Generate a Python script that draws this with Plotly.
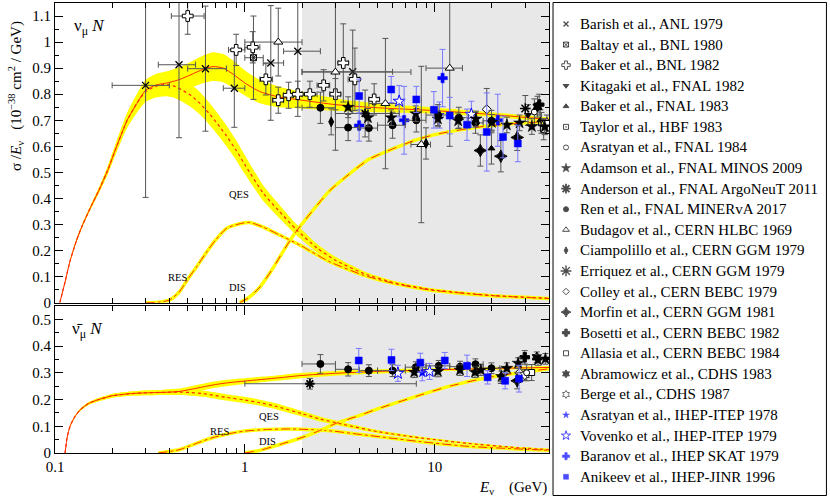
import numpy as np
import plotly.graph_objects as go

FONT = "Liberation Serif"

# ---------------- theory curves: neutrino (top) ----------------
tot_E = [0.106, 0.113, 0.12, 0.13, 0.14, 0.155, 0.17, 0.19, 0.21, 0.24, 0.27, 0.30, 0.34, 0.40, 0.455,
         0.52, 0.6, 0.68, 0.77, 0.87, 1.0, 1.2, 1.5, 2.0, 3.0, 5.0, 10, 20, 40]
tot_y = [0, 0.08, 0.16, 0.24, 0.30, 0.37, 0.43, 0.51, 0.595, 0.70, 0.765, 0.815, 0.835, 0.845, 0.857,
         0.875, 0.895, 0.906, 0.90, 0.876, 0.843, 0.81, 0.79, 0.777, 0.76, 0.748, 0.737, 0.722, 0.703]
tot_hw = [0.002, 0.003, 0.004, 0.005, 0.006, 0.008, 0.01, 0.015, 0.02, 0.028, 0.035, 0.04, 0.043, 0.045, 0.048,
          0.05, 0.053, 0.055, 0.054, 0.052, 0.048, 0.045, 0.04, 0.032, 0.024, 0.017, 0.012, 0.009, 0.008]

qes_E = [0.106, 0.113, 0.12, 0.13, 0.14, 0.155, 0.17, 0.19, 0.21, 0.24, 0.27, 0.30, 0.34, 0.38, 0.42, 0.47,
         0.52, 0.58, 0.65, 0.72, 0.8, 0.9, 1.0, 1.25, 1.5, 1.87, 2.4, 3.0, 4.2, 6.0, 9.4, 20, 40]
qes_y = [0, 0.08, 0.16, 0.24, 0.30, 0.37, 0.43, 0.51, 0.595, 0.70, 0.765, 0.81, 0.83, 0.837, 0.832, 0.815,
         0.795, 0.765, 0.725, 0.685, 0.64, 0.585, 0.53, 0.42, 0.355, 0.28, 0.21, 0.163, 0.113, 0.078, 0.051, 0.028, 0.017]
qes_hw = [0.002, 0.003, 0.004, 0.005, 0.006, 0.008, 0.01, 0.015, 0.02, 0.028, 0.035, 0.04, 0.043, 0.045, 0.045, 0.045,
          0.044, 0.043, 0.042, 0.041, 0.04, 0.038, 0.036, 0.03, 0.026, 0.021, 0.016, 0.013, 0.009, 0.007, 0.005, 0.004, 0.003]

res_E = [0.30, 0.35, 0.40, 0.45, 0.5, 0.56, 0.63, 0.7, 0.8, 0.94, 1.06, 1.25, 1.52, 1.95, 2.8, 4.2, 6.0, 9.4, 20, 40]
res_y = [0, 0.002, 0.01, 0.04, 0.09, 0.14, 0.195, 0.24, 0.285, 0.303, 0.308, 0.29, 0.26, 0.221, 0.157, 0.106,
         0.075, 0.049, 0.027, 0.016]

dis_E = [0.94, 1.05, 1.2, 1.4, 1.6, 1.85, 2.2, 2.8, 3.5, 4.5, 6.0, 8.0, 10, 15, 20, 30, 40]
dis_y = [0, 0.02, 0.06, 0.13, 0.2, 0.27, 0.34, 0.43, 0.49, 0.55, 0.59, 0.625, 0.645, 0.668, 0.68, 0.69, 0.695]

# ---------------- theory curves: antineutrino (bottom) ----------------
btot_E = [0.113, 0.116, 0.12, 0.127, 0.135, 0.15, 0.17, 0.2, 0.25, 0.3, 0.38, 0.45, 0.52, 0.6, 0.7, 0.8,
          1.0, 1.5, 2.0, 3.0, 5.0, 10, 20, 40]
btot_y = [0, 0.06, 0.1, 0.135, 0.16, 0.185, 0.2, 0.214, 0.222, 0.225, 0.227, 0.23, 0.238, 0.247, 0.256, 0.262,
          0.269, 0.281, 0.29, 0.298, 0.305, 0.311, 0.316, 0.32]
btot_hw = [0.002, 0.002, 0.003, 0.003, 0.004, 0.005, 0.006, 0.007, 0.008, 0.009, 0.01, 0.011, 0.012, 0.012, 0.012, 0.012,
           0.011, 0.01, 0.01, 0.009, 0.008, 0.006, 0.005, 0.005]

bqes_E = [0.113, 0.116, 0.12, 0.127, 0.135, 0.15, 0.17, 0.2, 0.25, 0.3, 0.38, 0.45, 0.52, 0.6, 0.7, 0.8,
          1.0, 1.2, 1.47, 2.0, 2.5, 3.3, 5.0, 8.3, 15, 25, 40]
bqes_y = [0, 0.06, 0.1, 0.135, 0.16, 0.185, 0.2, 0.214, 0.222, 0.225, 0.227, 0.228, 0.226, 0.222, 0.215, 0.208,
          0.198, 0.188, 0.174, 0.147, 0.127, 0.107, 0.08, 0.057, 0.036, 0.022, 0.012]
bqes_hw = [0.002, 0.002, 0.003, 0.003, 0.004, 0.005, 0.006, 0.007, 0.008, 0.009, 0.01, 0.011, 0.012, 0.012, 0.012, 0.012,
           0.012, 0.011, 0.011, 0.01, 0.009, 0.008, 0.006, 0.005, 0.004, 0.003, 0.003]

bres_E = [0.35, 0.45, 0.55, 0.68, 0.85, 1.0, 1.3, 1.73, 2.3, 2.9, 4.0, 6.0, 8.3, 15, 40]
bres_y = [0, 0.012, 0.035, 0.058, 0.074, 0.082, 0.088, 0.09, 0.087, 0.082, 0.07, 0.055, 0.043, 0.025, 0.01]

bdis_E = [1.0, 1.2, 1.5, 2.0, 2.5, 3.0, 4.0, 5.0, 8.0, 12, 20, 40]
bdis_y = [0, 0.01, 0.03, 0.058, 0.085, 0.11, 0.14, 0.165, 0.212, 0.25, 0.285, 0.315]

# ---------------- data: neutrino (top panel) ----------------
barish_E = [0.30, 0.45, 0.62, 0.88, 1.37, 1.9, 3.7]
barish_y = [0.834, 0.913, 0.898, 0.823, 0.92, 0.965, 0.886]
barish_dy = [0.43, 0.28, 0.24, 0.15, 0.22, 0.25, 0.16]
barish_Elo = [0.20, 0.35, 0.50, 0.77, 1.25, 1.6, 2.0]
barish_Ehi = [0.40, 0.55, 0.80, 1.0, 1.6, 2.5, 6.0]

baltay_E = [1.11]
baltay_y = [0.94]
baltay_dy = [0.16]
baltay_Elo = [1.0]
baltay_Ehi = [1.25]

bakerbnl_E = [0.5, 0.9, 1.1, 1.29, 1.5, 1.7, 1.9, 2.2, 2.6, 3.0, 3.3, 3.8, 4.8]
bakerbnl_y = [1.10, 0.97, 0.98, 0.857, 0.777, 0.796, 0.80, 0.80, 0.834, 0.80, 0.92, 0.857, 0.78]
bakerbnl_dy = [0.07, 0.06, 0.06, 0.06, 0.05, 0.05, 0.05, 0.05, 0.06, 0.06, 0.15, 0.12, 0.06]
bakerbnl_Elo = [0.41, 0.82, 1.0, 1.2, 1.4, 1.6, 1.8, 2.0, 2.4, 2.8, 3.1, 3.5, 4.5]
bakerbnl_Ehi = [0.61, 1.0, 1.2, 1.4, 1.6, 1.8, 2.0, 2.4, 2.8, 3.2, 3.5, 4.0, 5.1]

kitagaki_E = [31]
kitagaki_y = [0.72]
kitagaki_dy = [0.04]

bakerfnal_E = [19.9, 36]
bakerfnal_y = [0.592, 0.70]
bakerfnal_dy = [0.06, 0.04]

taylor_E = [36.5]
taylor_y = [0.69]
taylor_dy = [0.04]

asrfnal_E = [33.5]
asrfnal_y = [0.732]
asrfnal_dy = [0.05]

minos_E = [3.5, 4.45, 5.9, 7.95, 10.4, 13.3, 16.5, 20, 24, 28, 32.5, 38]
minos_y = [0.75, 0.71, 0.71, 0.725, 0.705, 0.698, 0.705, 0.692, 0.682, 0.69, 0.676, 0.675]
minos_dy = [0.04, 0.035, 0.03, 0.03, 0.03, 0.03, 0.03, 0.03, 0.03, 0.03, 0.03, 0.03]

argo_E = [4.3]
argo_y = [0.726]
argo_dy = [0.09]
argo_Elo = [3.0]
argo_Ehi = [6.5]

minerva_E = [2.5, 3.5, 4.5, 6.0, 8.0, 10.4, 13.4, 16.4, 19.9]
minerva_y = [0.748, 0.672, 0.67, 0.681, 0.70, 0.72, 0.71, 0.69, 0.698]
minerva_dy = [0.06, 0.05, 0.05, 0.05, 0.045, 0.04, 0.04, 0.04, 0.04]
minerva_Elo = [2.0, 3.0, 4.0, 5.0, 7.0, 9.0, 12, 15, 18]
minerva_Ehi = [3.0, 4.0, 5.0, 7.0, 9.0, 12, 15, 18, 22]

budagov_E = [1.5, 3.0, 5.5, 8.5, 12]
budagov_y = [1.0, 0.885, 0.764, 0.607, 0.90]
budagov_dy = [0.13, 0.3, 0.25, 0.3, 0.3]
budagov_Elo = [1.0, 2.0, 4.5, 7.5, 9.0]
budagov_Ehi = [2.0, 7.5, 6.5, 9.5, 14]

ciamp_E = [2.85, 9.0]
ciamp_y = [0.694, 0.611]
ciamp_dy = [0.05, 0.06]

erriquez_E = [30]
erriquez_y = [0.745]
erriquez_dy = [0.05]

colley_E = [18.8]
colley_y = [0.742]
colley_dy = [0.08]

morfin_E = [17.4, 22.3, 27.2]
morfin_y = [0.584, 0.562, 0.634]
morfin_dy = [0.06, 0.06, 0.05]

bosetti_E = [35.5]
bosetti_y = [0.76]
bosetti_dy = [0.04]

allasia_E = [37.5]
allasia_y = [0.665]
allasia_dy = [0.04]

abram_E = [34.8]
abram_y = [0.752]
abram_dy = [0.04]

berge_E = [39]
berge_y = [0.69]
berge_dy = [0.03]

asritep_E = [10.6]
asritep_y = [0.72]
asritep_dy = [0.05]

vovenko_E = [6.5, 15.6]
vovenko_y = [0.773, 0.723]
vovenko_dy = [0.06, 0.05]

baranov_E = [4.0, 6.9, 11, 21.5]
baranov_y = [0.68, 0.70, 0.862, 0.70]
baranov_dy = [0.06, 0.13, 0.11, 0.1]

anikeev_E = [4.0, 5.9, 8.0, 9.9, 12, 14.8, 18.8, 22.9, 27.4]
anikeev_y = [0.793, 0.818, 0.78, 0.74, 0.718, 0.683, 0.655, 0.636, 0.611]
anikeev_dy = [0.065, 0.05, 0.05, 0.07, 0.07, 0.06, 0.15, 0.08, 0.07]

# ---------------- data: antineutrino (bottom panel) ----------------
b_minerva_E = [2.5, 3.5, 4.5, 6.0, 7.95, 10.5, 13.6, 16.4, 19.9]
b_minerva_y = [0.333, 0.313, 0.308, 0.308, 0.321, 0.326, 0.323, 0.332, 0.317]
b_minerva_dy = [0.035, 0.025, 0.022, 0.022, 0.02, 0.02, 0.02, 0.02, 0.02]
b_minerva_Elo = [2.0, 3.0, 4.0, 5.0, 7.0, 9.0, 12, 15, 18]
b_minerva_Ehi = [3.0, 4.0, 5.0, 7.0, 9.0, 12, 15, 18, 22]

b_anikeev_E = [3.98, 5.92, 8.4, 11.3, 14.8, 19.0, 23.5, 27.8]
b_anikeev_y = [0.346, 0.348, 0.338, 0.346, 0.326, 0.283, 0.27, 0.278]
b_anikeev_dy = [0.045, 0.04, 0.035, 0.03, 0.04, 0.025, 0.03, 0.05]

b_minos_E = [7.8, 10.4, 13.6, 16.3, 17.5, 22.5, 24, 27.5, 35, 38.3]
b_minos_y = [0.302, 0.305, 0.31, 0.302, 0.31, 0.286, 0.317, 0.336, 0.348, 0.352]
b_minos_dy = [0.02, 0.02, 0.02, 0.02, 0.02, 0.02, 0.02, 0.02, 0.02, 0.02]

b_argo_E = [2.2]
b_argo_y = [0.259]
b_argo_dy = [0.02]
b_argo_Elo = [1.0]
b_argo_Ehi = [8.0]

b_vovenko_E = [6.4, 9.4]
b_vovenko_y = [0.298, 0.305]
b_vovenko_dy = [0.03, 0.03]

b_asritep_E = [8.6]
b_asritep_y = [0.30]
b_asritep_dy = [0.03]

b_bakerfnal_E = [22.3]
b_bakerfnal_y = [0.29]
b_bakerfnal_dy = [0.03]

b_colley_E = [28]
b_colley_y = [0.30]
b_colley_dy = [0.03]

b_morfin_E = [27.2]
b_morfin_y = [0.27]
b_morfin_dy = [0.03]

b_bosetti_E = [29.8]
b_bosetti_y = [0.358]
b_bosetti_dy = [0.025]

b_allasia_E = [32.4]
b_allasia_y = [0.301]
b_allasia_dy = [0.03]

b_abram_E = [34.5]
b_abram_y = [0.358]
b_abram_dy = [0.02]

b_berge_E = [29.8]
b_berge_y = [0.292]
b_berge_dy = [0.02]

b_asrfnal_E = [30.5]
b_asrfnal_y = [0.30]
b_asrfnal_dy = [0.03]

# legend labels (in order)
legend_names = [
    "Barish et al., ANL 1979", "Baltay et al., BNL 1980", "Baker et al., BNL 1982",
    "Kitagaki et al., FNAL 1982", "Baker et al., FNAL 1983", "Taylor et al., HBF 1983",
    "Asratyan et al., FNAL 1984", "Adamson et al., FNAL MINOS 2009", "Anderson et al., FNAL ArgoNeuT 2011",
    "Ren et al., FNAL MINERvA 2017", "Budagov et al., CERN HLBC 1969", "Ciampolillo et al., CERN GGM 1979",
    "Erriquez et al., CERN GGM 1979", "Colley et al., CERN BEBC 1979", "Morfin et al., CERN GGM 1981",
    "Bosetti et al., CERN BEBC 1982", "Allasia et al., CERN BEBC 1984", "Abramowicz et al., CDHS 1983",
    "Berge et al., CDHS 1987", "Asratyan et al., IHEP-ITEP 1978", "Vovenko et al., IHEP-ITEP 1979",
    "Baranov et al., IHEP SKAT 1979", "Anikeev et al., IHEP-JINR 1996",
]

# ---------------- styles ----------------
RED = "#ff2a00"
YEL = "#ffff00"
GREYBAR = "#555555"
BLUEBAR = "#7878ff"
BLUE = "#0000ff"

# (symbol, size, fill, line, linewidth, barcolor) per legend entry
STY = {
    "Barish et al., ANL 1979": ("x-thin-open", 7, "black", "black", 1.3, GREYBAR),
    "Baltay et al., BNL 1980": ("square-x-open", 6, "black", "black", 1.0, GREYBAR),
    "Baker et al., BNL 1982": ("cross", 9, "white", "black", 1.0, GREYBAR),
    "Kitagaki et al., FNAL 1982": ("triangle-down", 6, "black", "black", 1.0, GREYBAR),
    "Baker et al., FNAL 1983": ("triangle-up", 6, "black", "black", 1.0, GREYBAR),
    "Taylor et al., HBF 1983": ("square-open-dot", 6, "black", "black", 1.0, GREYBAR),
    "Asratyan et al., FNAL 1984": ("circle", 6, "white", "black", 1.0, GREYBAR),
    "Adamson et al., FNAL MINOS 2009": ("star", 9, "black", "black", 0.5, GREYBAR),
    "Anderson et al., FNAL ArgoNeuT 2011": ("asterisk-open", 8, "black", "black", 1.8, GREYBAR),
    "Ren et al., FNAL MINERvA 2017": ("circle", 7, "black", "black", 1.0, GREYBAR),
    "Budagov et al., CERN HLBC 1969": ("triangle-up", 8, "white", "black", 1.0, GREYBAR),
    "Ciampolillo et al., CERN GGM 1979": ("diamond-tall", 7, "black", "black", 1.0, GREYBAR),
    "Erriquez et al., CERN GGM 1979": ("asterisk-open", 9, "black", "black", 1.4, GREYBAR),
    "Colley et al., CERN BEBC 1979": ("diamond", 7, "white", "black", 1.0, GREYBAR),
    "Morfin et al., CERN GGM 1981": ("star-diamond", 9, "black", "black", 1.0, GREYBAR),
    "Bosetti et al., CERN BEBC 1982": ("cross", 8, "black", "black", 1.0, GREYBAR),
    "Allasia et al., CERN BEBC 1984": ("square", 6, "white", "black", 1.0, GREYBAR),
    "Abramowicz et al., CDHS 1983": ("hexagram", 8, "black", "black", 1.0, GREYBAR),
    "Berge et al., CDHS 1987": ("hexagram", 8, "white", "black", 0.8, GREYBAR),
    "Asratyan et al., IHEP-ITEP 1978": ("star", 7, BLUE, BLUE, 0.5, BLUEBAR),
    "Vovenko et al., IHEP-ITEP 1979": ("star", 9, "white", BLUE, 1.0, BLUEBAR),
    "Baranov et al., IHEP SKAT 1979": ("cross", 8, BLUE, BLUE, 0.5, BLUEBAR),
    "Anikeev et al., IHEP-JINR 1996": ("square", 7, BLUE, BLUE, 0.5, BLUEBAR),
}

fig = go.Figure()


def band(E, y, hw, xa, ya):
    lo = [max(0.0, a - b) for a, b in zip(y, hw)]
    up = [a + b for a, b in zip(y, hw)]
    fig.add_trace(go.Scatter(x=E, y=lo, mode="lines", line=dict(width=0, shape="spline", smoothing=0.6),
                             hoverinfo="skip", xaxis=xa, yaxis=ya))
    fig.add_trace(go.Scatter(x=E, y=up, mode="lines", line=dict(width=0, shape="spline", smoothing=0.6),
                             fill="tonexty", fillcolor=YEL, hoverinfo="skip", xaxis=xa, yaxis=ya))


def curve(E, y, xa, ya, dash="solid", under=False, width=1.0):
    if under:
        fig.add_trace(go.Scatter(x=E, y=y, mode="lines",
                                 line=dict(color=YEL, width=3.5, shape="spline", smoothing=0.6),
                                 hoverinfo="skip", xaxis=xa, yaxis=ya))
    fig.add_trace(go.Scatter(x=E, y=y, mode="lines",
                             line=dict(color=RED, width=width, dash=dash, shape="spline", smoothing=0.6),
                             hoverinfo="skip", xaxis=xa, yaxis=ya))


band(qes_E, qes_y, qes_hw, "x", "y")
band(tot_E, tot_y, tot_hw, "x", "y")
curve(res_E, res_y, "x", "y", dash="dashdot", under=True)
curve(dis_E, dis_y, "x", "y", dash="dash", under=True)
curve(qes_E, qes_y, "x", "y", dash="dot", width=1.2)
curve(tot_E, tot_y, "x", "y")

band(bqes_E, bqes_y, bqes_hw, "x2", "y2")
band(btot_E, btot_y, btot_hw, "x2", "y2")
curve(bres_E, bres_y, "x2", "y2", dash="dashdot", under=True)
curve(bdis_E, bdis_y, "x2", "y2", dash="dash", under=True)
curve(bqes_E, bqes_y, "x2", "y2", dash="dot", width=1.2)
curve(btot_E, btot_y, "x2", "y2")


def add(name, E, y, dy, Elo=None, Ehi=None, bottom=False):
    sym, size, fill, line, lw, barcolor = STY[name]
    xa, ya = ("x2", "y2") if bottom else ("x", "y")
    ex = None
    if Elo is not None:
        ex = dict(type="data", symmetric=False,
                  array=[h - e for h, e in zip(Ehi, E)],
                  arrayminus=[e - l for e, l in zip(E, Elo)],
                  color=barcolor, thickness=1, width=3)
    fig.add_trace(go.Scatter(
        x=E, y=y, mode="markers", name=name,
        marker=dict(symbol=sym, size=size, color=fill, line=dict(color=line, width=lw)),
        error_y=dict(type="data", array=dy, color=barcolor, thickness=1, width=3),
        error_x=ex, xaxis=xa, yaxis=ya))


add("Barish et al., ANL 1979", barish_E, barish_y, barish_dy, barish_Elo, barish_Ehi)
add("Baltay et al., BNL 1980", baltay_E, baltay_y, baltay_dy, baltay_Elo, baltay_Ehi)
add("Baker et al., BNL 1982", bakerbnl_E, bakerbnl_y, bakerbnl_dy, bakerbnl_Elo, bakerbnl_Ehi)
add("Kitagaki et al., FNAL 1982", kitagaki_E, kitagaki_y, kitagaki_dy)
add("Baker et al., FNAL 1983", bakerfnal_E, bakerfnal_y, bakerfnal_dy)
add("Taylor et al., HBF 1983", taylor_E, taylor_y, taylor_dy)
add("Asratyan et al., FNAL 1984", asrfnal_E, asrfnal_y, asrfnal_dy)
add("Budagov et al., CERN HLBC 1969", budagov_E, budagov_y, budagov_dy, budagov_Elo, budagov_Ehi)
add("Ciampolillo et al., CERN GGM 1979", ciamp_E, ciamp_y, ciamp_dy)
add("Erriquez et al., CERN GGM 1979", erriquez_E, erriquez_y, erriquez_dy)
add("Colley et al., CERN BEBC 1979", colley_E, colley_y, colley_dy)
add("Morfin et al., CERN GGM 1981", morfin_E, morfin_y, morfin_dy)
add("Bosetti et al., CERN BEBC 1982", bosetti_E, bosetti_y, bosetti_dy)
add("Allasia et al., CERN BEBC 1984", allasia_E, allasia_y, allasia_dy)
add("Abramowicz et al., CDHS 1983", abram_E, abram_y, abram_dy)
add("Berge et al., CDHS 1987", berge_E, berge_y, berge_dy)
add("Vovenko et al., IHEP-ITEP 1979", vovenko_E, vovenko_y, vovenko_dy)
add("Baranov et al., IHEP SKAT 1979", baranov_E, baranov_y, baranov_dy)
add("Asratyan et al., IHEP-ITEP 1978", asritep_E, asritep_y, asritep_dy)
add("Anderson et al., FNAL ArgoNeuT 2011", argo_E, argo_y, argo_dy, argo_Elo, argo_Ehi)
add("Ren et al., FNAL MINERvA 2017", minerva_E, minerva_y, minerva_dy, minerva_Elo, minerva_Ehi)
add("Adamson et al., FNAL MINOS 2009", minos_E, minos_y, minos_dy)
add("Anikeev et al., IHEP-JINR 1996", anikeev_E, anikeev_y, anikeev_dy)

add("Anderson et al., FNAL ArgoNeuT 2011", b_argo_E, b_argo_y, b_argo_dy, b_argo_Elo, b_argo_Ehi, bottom=True)
add("Baker et al., FNAL 1983", b_bakerfnal_E, b_bakerfnal_y, b_bakerfnal_dy, bottom=True)
add("Colley et al., CERN BEBC 1979", b_colley_E, b_colley_y, b_colley_dy, bottom=True)
add("Morfin et al., CERN GGM 1981", b_morfin_E, b_morfin_y, b_morfin_dy, bottom=True)
add("Bosetti et al., CERN BEBC 1982", b_bosetti_E, b_bosetti_y, b_bosetti_dy, bottom=True)
add("Allasia et al., CERN BEBC 1984", b_allasia_E, b_allasia_y, b_allasia_dy, bottom=True)
add("Abramowicz et al., CDHS 1983", b_abram_E, b_abram_y, b_abram_dy, bottom=True)
add("Berge et al., CDHS 1987", b_berge_E, b_berge_y, b_berge_dy, bottom=True)
add("Asratyan et al., FNAL 1984", b_asrfnal_E, b_asrfnal_y, b_asrfnal_dy, bottom=True)
add("Asratyan et al., IHEP-ITEP 1978", b_asritep_E, b_asritep_y, b_asritep_dy, bottom=True)
add("Vovenko et al., IHEP-ITEP 1979", b_vovenko_E, b_vovenko_y, b_vovenko_dy, bottom=True)
add("Ren et al., FNAL MINERvA 2017", b_minerva_E, b_minerva_y, b_minerva_dy, b_minerva_Elo, b_minerva_Ehi, bottom=True)
add("Adamson et al., FNAL MINOS 2009", b_minos_E, b_minos_y, b_minos_dy, bottom=True)
add("Anikeev et al., IHEP-JINR 1996", b_anikeev_E, b_anikeev_y, b_anikeev_dy, bottom=True)

# ---------------- hand-made legend (own axis) ----------------
LEG_X_SYM = 13
LEG_X_TXT = 25
LEG_Y0 = 22
LEG_DY = 20.58
leg_y = [LEG_Y0 + LEG_DY * i for i in range(len(legend_names))]
fig.add_trace(go.Scatter(
    x=[LEG_X_SYM] * len(legend_names), y=leg_y, mode="markers", hoverinfo="skip",
    marker=dict(symbol=[STY[n][0] for n in legend_names],
                size=[STY[n][1] if STY[n][0].startswith("asterisk") else max(5, STY[n][1] - 2)
                      for n in legend_names],
                color=[STY[n][2] for n in legend_names],
                line=dict(color=[STY[n][3] for n in legend_names],
                          width=[STY[n][4] for n in legend_names])),
    xaxis="x3", yaxis="y3"))

# ---------------- axes ----------------
x_minor = [m * 10.0 ** k for k in (-1, 0, 1) for m in range(2, 10) if m * 10.0 ** k < 40]
tickfont = dict(family=FONT, size=15, color="black")
XDOM = [0.0, 0.6399]


def xax(labels, anchor):
    return dict(type="log", range=[-1, np.log10(40)], tickvals=[0.1, 1, 10], ticktext=["0.1", "1", "10"],
                showticklabels=labels, ticks="inside", ticklen=9, tickwidth=1, tickcolor="black",
                showline=True, linecolor="black", linewidth=1, mirror="ticks", showgrid=False, zeroline=False,
                minor=dict(tickvals=x_minor, ticks="inside", ticklen=5, tickcolor="black", tickwidth=1, showgrid=False),
                tickfont=tickfont, anchor=anchor, domain=XDOM)


def yax(rng, major, minor, domain, anchor):
    return dict(range=rng, tickvals=major, ticktext=[("%g" % v) for v in major], ticks="inside", ticklen=8,
                tickwidth=1, tickcolor="black", showline=True, linecolor="black", linewidth=1, mirror="ticks",
                showgrid=False, zeroline=False, domain=domain, anchor=anchor,
                minor=dict(tickvals=minor, ticks="inside", ticklen=4, tickcolor="black", tickwidth=1, showgrid=False),
                tickfont=tickfont)


top_major = [round(0.1 * i, 1) for i in range(12)]
top_minor = [round(0.05 + 0.1 * i, 2) for i in range(11)]
bot_major = [round(0.1 * i, 1) for i in range(6)]
bot_minor = [round(0.05 + 0.1 * i, 2) for i in range(5)]

fig.update_layout(
    width=830, height=498,
    margin=dict(l=55, r=3, t=2, b=2, autoexpand=False),
    paper_bgcolor="white", plot_bgcolor="white", showlegend=False,
    font=dict(family=FONT, color="black"),
    xaxis=xax(False, "y"),
    xaxis2=xax(True, "y2"),
    yaxis=yax([0, 1.15], top_major, top_minor, [0.3913, 0.998], "x"),
    yaxis2=yax([0, 0.55], bot_major, bot_minor, [0.0870, 0.3848], "x2"),
    xaxis3=dict(domain=[0.6451, 1.0], range=[0, 274], visible=False, anchor="y3", fixedrange=True),
    yaxis3=dict(domain=[0.0, 1.0], range=[494, 0], visible=False, anchor="x3", fixedrange=True),
    shapes=[
        dict(type="rect", xref="x", yref="y domain", x0=2, x1=40, y0=0, y1=1, fillcolor="#e8e8e8",
             line=dict(width=0), layer="below"),
        dict(type="rect", xref="x2", yref="y2 domain", x0=2, x1=40, y0=0, y1=1, fillcolor="#e8e8e8",
             line=dict(width=0), layer="below"),
        dict(type="rect", xref="x3 domain", yref="y3 domain", x0=0, x1=0.998, y0=0.001, y1=0.999,
             line=dict(color="black", width=1), fillcolor="rgba(0,0,0,0)", layer="below"),
    ],
)

lab = dict(family=FONT, size=10.5, color="black")
annotations = [
    dict(xref="paper", yref="paper", x=-0.0505, y=0.8097, xanchor="center", yanchor="middle",
         textangle=-90, showarrow=False,
         text="σ /<i>E</i><sub>ν</sub>   (10<sup>−38</sup> cm<sup>2</sup> / GeV)",
         font=dict(family=FONT, size=15, color="black")),
    dict(xref="paper", yref="paper", x=0.6399, y=0.0162, xanchor="right", yanchor="middle", showarrow=False,
         text="<i>E</i><sub>ν</sub>    (GeV)", font=dict(family=FONT, size=15, color="black")),
    dict(xref="paper", yref="paper", x=0.022, y=0.949, xanchor="left", yanchor="middle", showarrow=False,
         text="ν<sub>μ</sub> <i>N</i>", font=dict(family=FONT, size=17, color="black")),
    dict(xref="paper", yref="paper", x=0.0194, y=0.336, xanchor="left", yanchor="middle", showarrow=False,
         text="ν\u0304<sub>μ</sub> <i>N</i>", font=dict(family=FONT, size=17, color="black")),
    dict(xref="x", yref="y", x=np.log10(0.93), y=0.417, text="QES", showarrow=False, font=lab),
    dict(xref="x", yref="y", x=np.log10(0.444), y=0.098, text="RES", showarrow=False, font=lab),
    dict(xref="x", yref="y", x=np.log10(0.918), y=0.06, text="DIS", showarrow=False, font=lab),
    dict(xref="x2", yref="y2", x=np.log10(1.34), y=0.137, text="QES", showarrow=False, font=lab),
    dict(xref="x2", yref="y2", x=np.log10(0.736), y=0.081, text="RES", showarrow=False, font=lab),
    dict(xref="x2", yref="y2", x=np.log10(1.32), y=0.043, text="DIS", showarrow=False, font=lab),
]
for n, yy in zip(legend_names, leg_y):
    annotations.append(dict(xref="x3", yref="y3", x=LEG_X_TXT, y=yy, xanchor="left", yanchor="middle",
                            text=n, showarrow=False, font=dict(family=FONT, size=15, color="black")))
fig.update_layout(annotations=annotations)

fig.write_html("out.html", config={"displayModeBar": False},
               post_script="document.body.style.margin='0px';")
